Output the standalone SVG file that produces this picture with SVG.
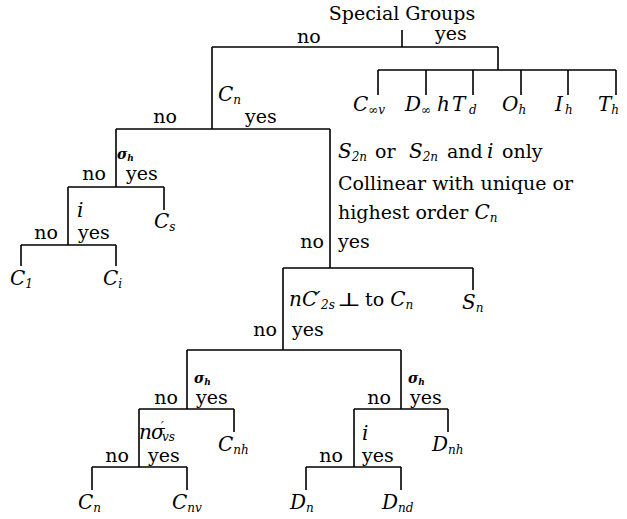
<svg xmlns="http://www.w3.org/2000/svg" width="627" height="519" viewBox="0 0 627 519">
<style>
text{font-family:"DejaVu Serif","Liberation Serif",serif;fill:#000}
.t{font-size:19px}
.m{font-size:20px;font-style:italic}
.s{font-size:12px;font-style:italic}
.g{font-size:14px;font-style:italic;font-weight:bold}
.gs{font-size:9px;font-style:italic;font-weight:bold}
.e{text-anchor:end}
#connectors path{stroke:#000;stroke-width:1.6;fill:none}
</style>
<rect width="627" height="519" fill="#fff"/>
<g id="connectors">
<path d="M402 30V47M212 47H498M498 47V70M212 47V129"/>
<path d="M378 70H616M378 70V95M426 70V95M473 70V95M521 70V95M568 70V95M616 70V95"/>
<path d="M116 129H330M116 129V187M330 129V268"/>
<path d="M68 187H164M164 187V210M68 187V245"/>
<path d="M21 245H116M21 245V266M116 245V266"/>
<path d="M283 268H473M473 268V290M283 268V350"/>
<path d="M187 350H401M187 350V409M401 350V409"/>
<path d="M139 409H234M234 409V432M139 409V467"/>
<path d="M92 467H187M92 467V490M187 467V490"/>
<path d="M354 409H448M448 409V432M354 409V467"/>
<path d="M306 467H401M306 467V490M401 467V490"/>
</g>
<g id="special-groups">
<text class="t" x="402" y="20" text-anchor="middle">Special Groups</text>
<text class="t" x="297" y="43">no</text>
<text class="t" x="435" y="40">yes</text>
</g>
<g id="leaf-Cinfv"><text x="353" y="111"><tspan class="m">C</tspan><tspan class="s" font-size="14" dy="3">∞v</tspan></text></g>
<g id="leaf-Dinfh"><text y="111"><tspan class="m" x="405">D</tspan><tspan class="s" font-size="14" dy="3">∞</tspan><tspan class="m" x="437" dy="-3">h</tspan></text></g>
<g id="leaf-Td"><text y="111"><tspan class="m" x="452">T</tspan><tspan class="s" x="469" dy="3">d</tspan></text></g>
<g id="leaf-Oh"><text x="502" y="111"><tspan class="m">O</tspan><tspan class="s" dy="3">h</tspan></text></g>
<g id="leaf-Ih"><text x="555" y="111"><tspan class="m">I</tspan><tspan class="s" dy="3" dx="2">h</tspan></text></g>
<g id="leaf-Th"><text x="598" y="111"><tspan class="m">T</tspan><tspan class="s" dy="3">h</tspan></text></g>
<g id="q-Cn">
<text x="218" y="101"><tspan class="m">C</tspan><tspan class="s" dy="3">n</tspan></text>
<text class="t e" x="177" y="123">no</text>
<text class="t" x="245" y="123">yes</text>
</g>
<g id="q-sigmah-1">
<text x="117" y="159"><tspan class="g">σ</tspan><tspan class="gs" dy="2">h</tspan></text>
<text class="t e" x="106" y="180">no</text>
<text class="t" x="126" y="180">yes</text>
</g>
<g id="leaf-Cs"><text x="154" y="228"><tspan class="m">C</tspan><tspan class="s" dy="3">s</tspan></text></g>
<g id="q-i-1">
<text class="m" x="77" y="217">i</text>
<text class="t e" x="58" y="239">no</text>
<text class="t" x="78" y="239">yes</text>
</g>
<g id="leaf-C1"><text x="10" y="285"><tspan class="m">C</tspan><tspan class="s" font-style="normal" dy="3">1</tspan></text></g>
<g id="leaf-Ci"><text x="103" y="285"><tspan class="m">C</tspan><tspan class="s" dy="3">i</tspan></text></g>
<g id="q-S2n">
<text y="158"><tspan class="m" x="338">S</tspan><tspan class="s" dy="3">2n</tspan><tspan class="t" x="375" dy="-3">or</tspan><tspan class="m" x="409">S</tspan><tspan class="s" dy="3">2n</tspan><tspan class="t" x="447" dy="-3">and</tspan><tspan class="m" x="487" font-size="19">i</tspan><tspan class="t" x="502">only</tspan></text>
<text class="t" x="338" y="190">Collinear with unique or</text>
<text x="338" y="219"><tspan class="t">highest order </tspan><tspan class="m">C</tspan><tspan class="s" dy="3">n</tspan></text>
<text class="t e" x="324" y="248">no</text>
<text class="t" x="338" y="248">yes</text>
</g>
<g id="leaf-Sn"><text x="462" y="309"><tspan class="m">S</tspan><tspan class="s" dy="3">n</tspan></text></g>
<g id="q-nC2">
<text y="306"><tspan class="m" x="289">n</tspan><tspan class="m" x="302">C</tspan><tspan class="m" x="316" font-style="normal">′</tspan><tspan class="s" x="321" dy="3" font-size="11">2s</tspan></text>
<text class="t" x="337" y="306" textLength="24" lengthAdjust="spacingAndGlyphs">⊥</text>
<text x="365" y="306"><tspan class="t">to </tspan><tspan class="m">C</tspan><tspan class="s" dy="3">n</tspan></text>
<text class="t e" x="277" y="336">no</text>
<text class="t" x="292" y="336">yes</text>
</g>
<g id="q-sigmah-2">
<text x="194" y="383"><tspan class="g">σ</tspan><tspan class="gs" dy="2">h</tspan></text>
<text class="t e" x="178" y="404">no</text>
<text class="t" x="196" y="404">yes</text>
</g>
<g id="leaf-Cnh"><text x="218" y="451"><tspan class="m">C</tspan><tspan class="s" dy="3">nh</tspan></text></g>
<g id="q-nsigmav">
<text y="439"><tspan class="m" x="139" font-size="19">n</tspan><tspan class="m" x="151" font-size="17">σ</tspan><tspan class="s" x="161" font-style="normal" dy="-8">′</tspan><tspan class="s" x="162" font-size="10" dy="10">vs</tspan></text>
<text class="t e" x="129" y="462">no</text>
<text class="t" x="148" y="462">yes</text>
</g>
<g id="leaf-Cn"><text x="78" y="509"><tspan class="m">C</tspan><tspan class="s" dy="3">n</tspan></text></g>
<g id="leaf-Cnv"><text x="172" y="509"><tspan class="m">C</tspan><tspan class="s" dy="3">nv</tspan></text></g>
<g id="q-sigmah-3">
<text x="408" y="383"><tspan class="g">σ</tspan><tspan class="gs" dy="2">h</tspan></text>
<text class="t e" x="391" y="404">no</text>
<text class="t" x="410" y="404">yes</text>
</g>
<g id="leaf-Dnh"><text x="432" y="451"><tspan class="m">D</tspan><tspan class="s" dy="3">nh</tspan></text></g>
<g id="q-i-2">
<text class="m" x="362" y="440">i</text>
<text class="t e" x="343" y="462">no</text>
<text class="t" x="362" y="462">yes</text>
</g>
<g id="leaf-Dn"><text x="290" y="509"><tspan class="m">D</tspan><tspan class="s" dy="3">n</tspan></text></g>
<g id="leaf-Dnd"><text x="382" y="509"><tspan class="m">D</tspan><tspan class="s" dy="3">nd</tspan></text></g>
</svg>
